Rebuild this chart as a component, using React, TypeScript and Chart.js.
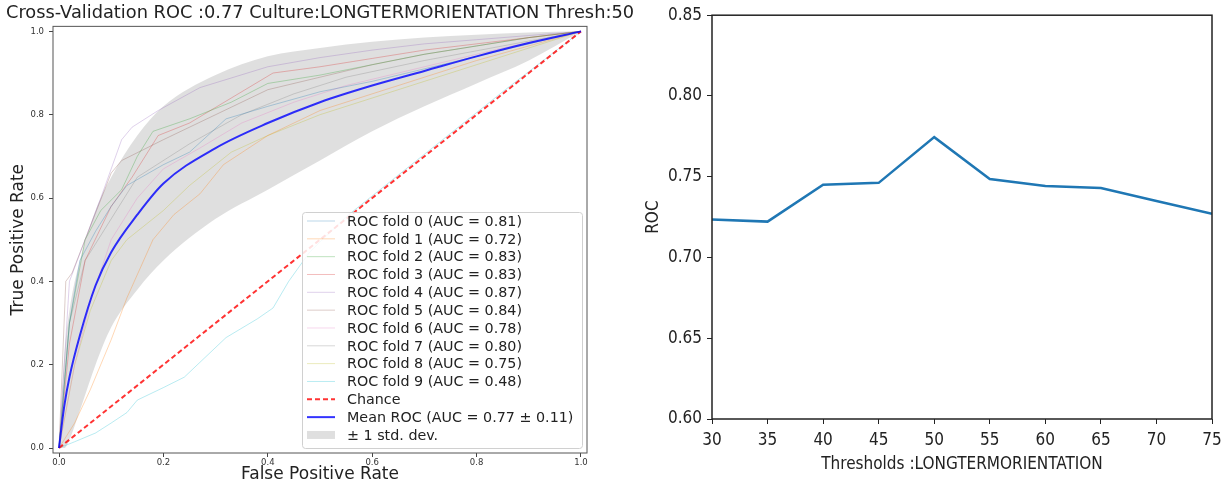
import React, { useEffect, useRef } from "react";
import { Chart, registerables } from "chart.js";

Chart.register(...registerables);

// ---------- Left panel data (ROC curves) ----------
const TITLE_LEFT = "Cross-Validation ROC :0.77 Culture:LONGTERMORIENTATION Thresh:50";
const UNIT_TICKS = [0, 0.2, 0.4, 0.6, 0.8, 1.0];

const FOLD_LABELS = [
  "ROC fold 0 (AUC = 0.81)",
  "ROC fold 1 (AUC = 0.72)",
  "ROC fold 2 (AUC = 0.83)",
  "ROC fold 3 (AUC = 0.83)",
  "ROC fold 4 (AUC = 0.87)",
  "ROC fold 5 (AUC = 0.84)",
  "ROC fold 6 (AUC = 0.78)",
  "ROC fold 7 (AUC = 0.80)",
  "ROC fold 8 (AUC = 0.75)",
  "ROC fold 9 (AUC = 0.48)",
];
const FOLD_COLORS = [
  "rgba(31,119,180,0.3)",
  "rgba(255,127,14,0.3)",
  "rgba(44,160,44,0.3)",
  "rgba(214,39,40,0.3)",
  "rgba(148,103,189,0.3)",
  "rgba(140,86,75,0.3)",
  "rgba(227,119,194,0.3)",
  "rgba(127,127,127,0.3)",
  "rgba(188,189,34,0.3)",
  "rgba(23,190,207,0.3)",
];

const FOLD0_FPR = [0, 0.02, 0.04, 0.07, 0.1, 0.13, 0.2, 0.25, 0.32, 0.4, 0.5, 0.6, 0.7, 0.8, 0.9, 1];
const FOLD0_TPR = [0, 0.3, 0.45, 0.52, 0.58, 0.63, 0.68, 0.71, 0.79, 0.82, 0.855, 0.88, 0.91, 0.94, 0.97, 1];
const FOLD1_FPR = [0, 0.03, 0.06, 0.1, 0.13, 0.18, 0.22, 0.27, 0.315, 0.4, 0.5, 0.6, 0.7, 0.8, 0.9, 1];
const FOLD1_TPR = [0, 0.06, 0.14, 0.26, 0.36, 0.5, 0.56, 0.61, 0.68, 0.75, 0.81, 0.85, 0.89, 0.93, 0.965, 1];
const FOLD2_FPR = [0, 0.02, 0.05, 0.08, 0.12, 0.15, 0.18, 0.25, 0.33, 0.4, 0.5, 0.6, 0.7, 0.8, 0.9, 1];
const FOLD2_TPR = [0, 0.3, 0.5, 0.57, 0.62, 0.7, 0.76, 0.79, 0.83, 0.875, 0.895, 0.92, 0.945, 0.965, 0.985, 1];
const FOLD3_FPR = [0, 0.02, 0.05, 0.1, 0.14, 0.19, 0.25, 0.33, 0.41, 0.5, 0.6, 0.7, 0.8, 0.9, 1];
const FOLD3_TPR = [0, 0.25, 0.45, 0.58, 0.65, 0.75, 0.78, 0.84, 0.9, 0.915, 0.935, 0.955, 0.97, 0.985, 1];
const FOLD4_FPR = [0, 0.01, 0.02, 0.05, 0.08, 0.12, 0.14, 0.19, 0.27, 0.4, 0.5, 0.6, 0.7, 0.8, 0.9, 1];
const FOLD4_TPR = [0, 0.2, 0.4, 0.5, 0.6, 0.74, 0.77, 0.81, 0.865, 0.915, 0.937, 0.955, 0.97, 0.98, 0.99, 1];
const FOLD5_FPR = [0, 0.013, 0.025, 0.05, 0.1, 0.12, 0.2, 0.3, 0.4, 0.5, 0.6, 0.7, 0.8, 0.9, 1];
const FOLD5_TPR = [0, 0.4, 0.42, 0.5, 0.66, 0.69, 0.74, 0.8, 0.86, 0.89, 0.92, 0.945, 0.965, 0.985, 1];
const FOLD6_FPR = [0, 0.03, 0.06, 0.1, 0.15, 0.2, 0.27, 0.35, 0.45, 0.55, 0.65, 0.75, 0.85, 1];
const FOLD6_TPR = [0, 0.2, 0.35, 0.5, 0.6, 0.67, 0.72, 0.78, 0.83, 0.87, 0.9, 0.93, 0.96, 1];
const FOLD7_FPR = [0, 0.02, 0.05, 0.1, 0.15, 0.25, 0.35, 0.45, 0.55, 0.7, 0.85, 1];
const FOLD7_TPR = [0, 0.3, 0.45, 0.55, 0.65, 0.73, 0.8, 0.85, 0.89, 0.93, 0.965, 1];
const FOLD8_FPR = [0, 0.03, 0.06, 0.1, 0.13, 0.2, 0.25, 0.33, 0.4, 0.5, 0.6, 0.7, 0.8, 0.9, 1];
const FOLD8_TPR = [0, 0.2, 0.33, 0.45, 0.5, 0.57, 0.63, 0.71, 0.75, 0.8, 0.84, 0.88, 0.92, 0.96, 1];
const FOLD9_FPR = [0, 0.03, 0.07, 0.1, 0.13, 0.15, 0.2, 0.24, 0.32, 0.38, 0.41, 0.44, 0.48, 0.55, 0.65, 0.75, 0.85, 1];
const FOLD9_TPR = [0, 0.015, 0.036, 0.06, 0.085, 0.115, 0.145, 0.17, 0.265, 0.31, 0.336, 0.4, 0.47, 0.555, 0.655, 0.755, 0.855, 1];

const FOLDS_FPR = [FOLD0_FPR, FOLD1_FPR, FOLD2_FPR, FOLD3_FPR, FOLD4_FPR, FOLD5_FPR, FOLD6_FPR, FOLD7_FPR, FOLD8_FPR, FOLD9_FPR];
const FOLDS_TPR = [FOLD0_TPR, FOLD1_TPR, FOLD2_TPR, FOLD3_TPR, FOLD4_TPR, FOLD5_TPR, FOLD6_TPR, FOLD7_TPR, FOLD8_TPR, FOLD9_TPR];

const CHANCE_FPR = [0, 1];
const CHANCE_TPR = [0, 1];

const MEAN_FPR = [0, 0.01, 0.02, 0.04, 0.07, 0.1, 0.15, 0.2, 0.3, 0.4, 0.5, 0.6, 0.7, 0.8, 0.9, 1];
const MEAN_TPR = [0, 0.1, 0.17, 0.27, 0.39, 0.47, 0.56, 0.635, 0.72, 0.78, 0.83, 0.87, 0.905, 0.94, 0.972, 1];
const STD_UPPER = [0, 0.22, 0.33, 0.45, 0.57, 0.65, 0.75, 0.82, 0.895, 0.94, 0.96, 0.975, 0.985, 0.992, 0.997, 1];
const STD_LOWER = [0, 0, 0.02, 0.09, 0.2, 0.29, 0.38, 0.45, 0.55, 0.62, 0.69, 0.76, 0.82, 0.875, 0.93, 1];

const CHANCE_LABEL = "Chance";
const MEAN_LABEL = "Mean ROC (AUC = 0.77 \u00B1 0.11)";
const STD_LABEL = "\u00B1 1 std. dev.";

// ---------- Right panel data ----------
const THRESHOLDS = [30, 35, 40, 45, 50, 55, 60, 65, 70, 75];
const ROC_VALUES = [0.7235, 0.7222, 0.745, 0.7462, 0.7745, 0.7486, 0.7443, 0.743, 0.735, 0.727];
const RIGHT_Y_TICKS = [0.6, 0.65, 0.7, 0.75, 0.8, 0.85];
const RIGHT_X_TICKS = [30, 35, 40, 45, 50, 55, 60, 65, 70, 75];
const RIGHT_X_TITLE = "Thresholds :LONGTERMORIENTATION";
const RIGHT_Y_TITLE = "ROC";

const pts = (xs: number[], ys: number[]) => xs.map((x, i) => ({ x, y: ys[i] }));

const FONT = '"DejaVu Sans", sans-serif';
const NARROW = '"DejaVu Sans Condensed", "Liberation Sans Narrow", "Liberation Sans", sans-serif';

const framePlugin = (color: string, width: number) => ({
  id: "frame",
  afterDatasetsDraw(chart: any) {
    const { ctx, chartArea: a } = chart;
    ctx.save();
    ctx.strokeStyle = color;
    ctx.lineWidth = width;
    ctx.strokeRect(a.left, a.top, a.right - a.left, a.bottom - a.top);
    ctx.restore();
  },
});

const legendPlugin = {
  id: "rocLegend",
  afterDraw(chart: any) {
    const { ctx, chartArea: a } = chart;
    const items = chart.data.datasets
      .filter((d: any) => d.legendRank !== undefined)
      .sort((p: any, q: any) => p.legendRank - q.legendRank);
    const boxW = 280;
    const boxH = 236;
    const x0 = a.right - 5 - boxW;
    const y0 = a.bottom - 5 - boxH;
    ctx.save();
    ctx.beginPath();
    ctx.roundRect(x0 + 0.5, y0 + 0.5, boxW, boxH, 3);
    ctx.fillStyle = "rgba(255,255,255,0.85)";
    ctx.fill();
    ctx.strokeStyle = "#d0d0d0";
    ctx.lineWidth = 1;
    ctx.stroke();
    ctx.font = `14.3px ${FONT}`;
    ctx.textBaseline = "middle";
    items.forEach((d: any, i: number) => {
      const y = y0 + 9 + i * 17.83;
      if (d.legendPatch) {
        ctx.fillStyle = d.backgroundColor;
        ctx.fillRect(x0 + 5, y - 4, 28, 8);
      } else {
        ctx.beginPath();
        ctx.setLineDash(d.borderDash || []);
        ctx.strokeStyle = d.borderColor;
        ctx.lineWidth = d.borderWidth;
        ctx.moveTo(x0 + 5, y);
        ctx.lineTo(x0 + 33, y);
        ctx.stroke();
        ctx.setLineDash([]);
      }
      ctx.fillStyle = "#222";
      ctx.fillText(d.legendText, x0 + 45, y + 1);
    });
    ctx.restore();
  },
};

function LeftChart() {
  const ref = useRef<HTMLCanvasElement | null>(null);
  useEffect(() => {
    if (!ref.current) return;
    const folds = FOLD_LABELS.map((label, i) => ({
      label,
      legendText: label,
      legendRank: i,
      data: pts(FOLDS_FPR[i], FOLDS_TPR[i]),
      borderColor: FOLD_COLORS[i],
      borderWidth: 1,
      showLine: true,
      pointRadius: 0,
      fill: false,
    }));
    const datasets: any[] = [
      {
        label: MEAN_LABEL,
        legendText: MEAN_LABEL,
        legendRank: 11,
        data: pts(MEAN_FPR, MEAN_TPR),
        borderColor: "rgba(0,0,255,0.8)",
        borderWidth: 2,
        showLine: true,
        pointRadius: 0,
        cubicInterpolationMode: "monotone",
        fill: false,
      },
      {
        label: CHANCE_LABEL,
        legendText: CHANCE_LABEL,
        legendRank: 10,
        data: pts(CHANCE_FPR, CHANCE_TPR),
        borderColor: "rgba(255,0,0,0.8)",
        borderWidth: 2,
        borderDash: [5, 3],
        showLine: true,
        pointRadius: 0,
        fill: false,
      },
      ...folds,
      {
        label: "std lower",
        data: pts(MEAN_FPR, STD_LOWER),
        borderColor: "rgba(0,0,0,0)",
        borderWidth: 0,
        showLine: true,
        pointRadius: 0,
        cubicInterpolationMode: "monotone",
        fill: false,
      },
      {
        label: STD_LABEL,
        legendText: STD_LABEL,
        legendRank: 12,
        legendPatch: true,
        data: pts(MEAN_FPR, STD_UPPER),
        borderColor: "rgba(0,0,0,0)",
        backgroundColor: "rgba(128,128,128,0.25)",
        borderWidth: 0,
        showLine: true,
        pointRadius: 0,
        cubicInterpolationMode: "monotone",
        fill: "-1",
      },
    ];
    const tickCfg = { display: true, drawOnChartArea: false, drawTicks: true, tickLength: 4, tickColor: "#444" };
    const chart = new Chart(ref.current, {
      type: "scatter",
      data: { datasets },
      options: {
        animation: false,
        responsive: false,
        events: [],
        layout: { padding: 0 },
        plugins: {
          legend: { display: false },
          tooltip: { enabled: false },
          title: {
            display: true,
            text: TITLE_LEFT,
            color: "#222",
            font: { family: FONT, size: 17.8, weight: "normal" },
            padding: { top: 3, bottom: 2 },
          },
        },
        scales: {
          x: {
            type: "linear",
            min: -0.0115,
            max: 1.0115,
            afterFit: (s: any) => { s.height = 32; },
            afterBuildTicks: (s: any) => { s.ticks = UNIT_TICKS.map((v) => ({ value: v })); },
            ticks: { color: "#333", font: { family: FONT, size: 8.5 }, padding: 1, callback: (v: any) => Number(v).toFixed(1) },
            grid: tickCfg,
            border: { display: false },
            title: { display: true, text: "False Positive Rate", color: "#222", font: { family: FONT, size: 17 }, padding: { top: 0, bottom: 0 } },
          },
          y: {
            type: "linear",
            min: -0.012,
            max: 1.012,
            afterFit: (s: any) => { s.width = 53; },
            afterBuildTicks: (s: any) => { s.ticks = UNIT_TICKS.map((v) => ({ value: v })); },
            ticks: { color: "#333", font: { family: FONT, size: 8.5 }, padding: 5, callback: (v: any) => Number(v).toFixed(1) },
            grid: tickCfg,
            border: { display: false },
            title: { display: true, text: "True Positive Rate", color: "#222", font: { family: FONT, size: 17 }, padding: { top: 8, bottom: 0 } },
          },
          ySpacer: {
            type: "linear",
            position: "right",
            min: 0,
            max: 1,
            afterFit: (s: any) => { s.width = 53; },
            ticks: { display: false },
            grid: { display: false },
            border: { display: false },
          },
        },
      },
      plugins: [framePlugin("#555", 1), legendPlugin],
    } as any);
    return () => chart.destroy();
  }, []);
  return <canvas ref={ref} width={640} height={485} style={{ position: "absolute", left: 0, top: 0, width: 640, height: 485 }} />;
}

function RightChart() {
  const ref = useRef<HTMLCanvasElement | null>(null);
  useEffect(() => {
    if (!ref.current) return;
    const tickCfg = { display: true, drawOnChartArea: false, drawTicks: true, tickLength: 5, tickColor: "#222" };
    const chart = new Chart(ref.current, {
      type: "line",
      data: {
        datasets: [
          {
            label: "ROC",
            data: pts(THRESHOLDS, ROC_VALUES),
            borderColor: "#1f77b4",
            borderWidth: 2.5,
            pointRadius: 0,
            fill: false,
            tension: 0,
          },
        ],
      },
      options: {
        animation: false,
        responsive: false,
        events: [],
        layout: { padding: { left: 0, right: 16, top: 12, bottom: 0 } },
        plugins: { legend: { display: false }, tooltip: { enabled: false }, title: { display: false } },
        scales: {
          x: {
            type: "linear",
            min: 30,
            max: 75,
            afterFit: (s: any) => { s.height = 66; },
            afterBuildTicks: (s: any) => { s.ticks = RIGHT_X_TICKS.map((v) => ({ value: v })); },
            ticks: { color: "#222", font: { family: NARROW, size: 17 }, padding: 6, maxRotation: 0, callback: (v: any) => String(v) },
            grid: tickCfg,
            border: { display: false },
            title: { display: true, text: RIGHT_X_TITLE, color: "#222", font: { family: NARROW, size: 17 }, padding: { top: 0, bottom: 10 } },
          },
          y: {
            type: "linear",
            min: 0.6,
            max: 0.85,
            afterFit: (s: any) => { s.width = 72; },
            afterBuildTicks: (s: any) => { s.ticks = RIGHT_Y_TICKS.map((v) => ({ value: v })); },
            ticks: { color: "#222", font: { family: NARROW, size: 17 }, padding: 5, callback: (v: any) => Number(v).toFixed(2) },
            grid: tickCfg,
            border: { display: false },
            title: { display: true, text: RIGHT_Y_TITLE, color: "#222", font: { family: NARROW, size: 17 }, padding: { top: 3, bottom: 0 } },
          },
        },
      },
      plugins: [framePlugin("#222", 1.5)],
    } as any);
    return () => chart.destroy();
  }, []);
  return <canvas ref={ref} width={588} height={485} style={{ position: "absolute", left: 640, top: 0, width: 588, height: 485 }} />;
}

export default function App() {
  return (
    <div style={{ position: "fixed", left: 0, top: 0, width: 1228, height: 485, background: "#fff", overflow: "hidden" }}>
      <LeftChart />
      <RightChart />
    </div>
  );
}
